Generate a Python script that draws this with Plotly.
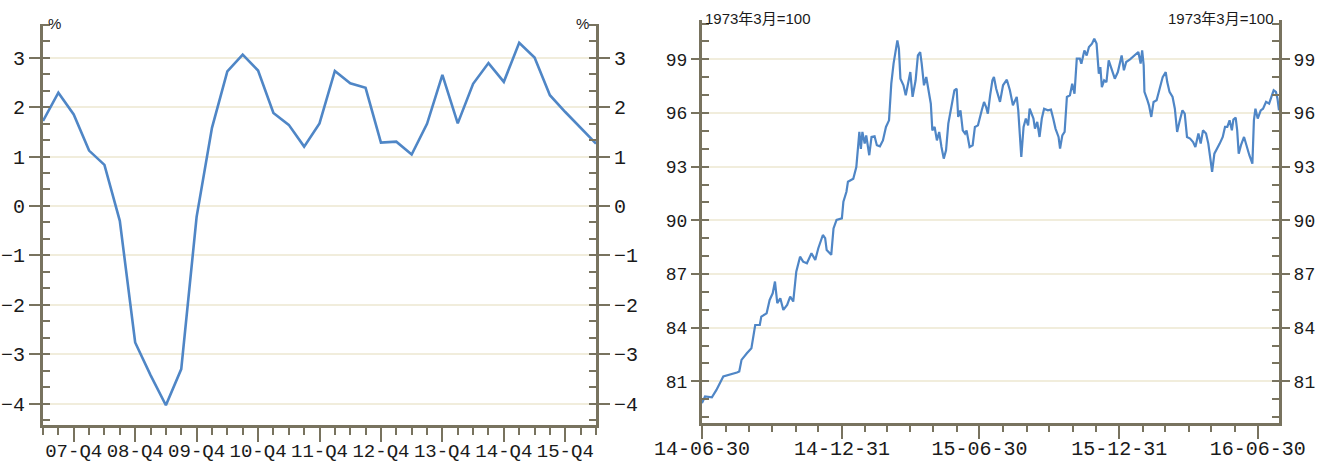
import plotly.graph_objects as go
import pandas as pd

# ---------------- Left chart data (quarterly, %) ----------------
quarters = [
    "07-Q2", "07-Q3", "07-Q4", "08-Q1", "08-Q2", "08-Q3", "08-Q4",
    "09-Q1", "09-Q2", "09-Q3", "09-Q4", "10-Q1", "10-Q2", "10-Q3", "10-Q4",
    "11-Q1", "11-Q2", "11-Q3", "11-Q4", "12-Q1", "12-Q2", "12-Q3", "12-Q4",
    "13-Q1", "13-Q2", "13-Q3", "13-Q4", "14-Q1", "14-Q2", "14-Q3", "14-Q4",
    "15-Q1", "15-Q2", "15-Q3", "15-Q4", "16-Q1", "16-Q2",
]
growth = [
    1.72, 2.29, 1.85, 1.12, 0.83, -0.30, -2.76,
    -3.42, -4.03, -3.30, -0.22, 1.58, 2.72, 3.06, 2.74,
    1.88, 1.64, 1.20, 1.67, 2.73, 2.48, 2.39, 1.28,
    1.30, 1.04, 1.66, 2.65, 1.67, 2.47, 2.89, 2.51,
    3.30, 3.00, 2.24, 1.90, 1.57, 1.26,
]
left_tick_labels = ["07-Q4", "08-Q4", "09-Q4", "10-Q4", "11-Q4",
                    "12-Q4", "13-Q4", "14-Q4", "15-Q4"]
left_unit = "%"

# ---------------- Right chart data (daily index, 1973年3月=100) ----------------
dates = [
    "2014-06-30", "2014-07-04", "2014-07-13", "2014-07-19", "2014-07-28",
    "2014-08-06", "2014-08-15", "2014-08-18", "2014-08-21", "2014-08-28",
    "2014-09-03", "2014-09-08", "2014-09-14", "2014-09-16", "2014-09-23",
    "2014-09-27", "2014-10-01", "2014-10-04", "2014-10-07", "2014-10-11",
    "2014-10-15", "2014-10-20", "2014-10-24", "2014-10-28", "2014-11-01",
    "2014-11-06", "2014-11-10", "2014-11-15", "2014-11-21", "2014-11-26",
    "2014-11-30", "2014-12-06", "2014-12-09", "2014-12-11", "2014-12-17",
    "2014-12-20", "2014-12-24", "2014-12-31", "2015-01-02", "2015-01-06",
    "2015-01-08", "2015-01-15", "2015-01-19", "2015-01-23", "2015-01-25",
    "2015-01-27", "2015-01-30", "2015-02-01", "2015-02-05", "2015-02-08",
    "2015-02-12", "2015-02-15", "2015-02-19", "2015-02-23", "2015-02-27",
    "2015-03-03", "2015-03-06", "2015-03-09", "2015-03-12", "2015-03-14",
    "2015-03-16", "2015-03-18", "2015-03-22", "2015-03-25", "2015-03-28",
    "2015-03-31", "2015-04-03", "2015-04-07", "2015-04-10", "2015-04-13",
    "2015-04-15", "2015-04-18", "2015-04-21", "2015-04-24", "2015-04-27",
    "2015-04-29", "2015-05-02", "2015-05-05", "2015-05-08", "2015-05-11",
    "2015-05-14", "2015-05-17", "2015-05-20", "2015-05-24", "2015-05-28",
    "2015-05-31", "2015-06-02", "2015-06-05", "2015-06-08", "2015-06-11",
    "2015-06-13", "2015-06-17", "2015-06-21", "2015-06-24", "2015-06-28",
    "2015-07-03", "2015-07-06", "2015-07-09", "2015-07-11", "2015-07-14",
    "2015-07-17", "2015-07-19", "2015-07-22", "2015-07-27", "2015-07-31",
    "2015-08-05", "2015-08-09", "2015-08-13", "2015-08-18", "2015-08-20",
    "2015-08-22", "2015-08-24", "2015-08-27", "2015-08-30", "2015-09-02",
    "2015-09-04", "2015-09-09", "2015-09-11", "2015-09-14", "2015-09-17",
    "2015-09-20", "2015-09-23", "2015-09-28", "2015-10-02", "2015-10-05",
    "2015-10-08", "2015-10-12", "2015-10-14", "2015-10-17", "2015-10-20",
    "2015-10-23", "2015-10-27", "2015-10-30", "2015-11-02", "2015-11-05",
    "2015-11-09", "2015-11-11", "2015-11-15", "2015-11-18", "2015-11-21",
    "2015-11-25", "2015-11-28", "2015-12-01", "2015-12-04", "2015-12-06",
    "2015-12-08", "2015-12-11", "2015-12-14", "2015-12-17", "2015-12-21",
    "2015-12-25", "2015-12-29", "2016-01-03", "2016-01-06", "2016-01-09",
    "2016-01-14", "2016-01-20", "2016-01-25", "2016-01-28", "2016-01-30",
    "2016-02-01", "2016-02-02", "2016-02-06", "2016-02-08", "2016-02-11",
    "2016-02-14", "2016-02-18", "2016-02-21", "2016-02-26", "2016-03-01",
    "2016-03-03", "2016-03-06", "2016-03-10", "2016-03-13", "2016-03-16",
    "2016-03-19", "2016-03-23", "2016-03-26", "2016-03-29", "2016-04-02",
    "2016-04-06", "2016-04-09", "2016-04-13", "2016-04-16", "2016-04-19",
    "2016-04-23", "2016-04-26", "2016-04-29", "2016-05-01", "2016-05-04",
    "2016-05-08", "2016-05-11", "2016-05-15", "2016-05-18", "2016-05-21",
    "2016-05-24", "2016-05-27", "2016-05-29", "2016-06-01", "2016-06-03",
    "2016-06-05", "2016-06-08", "2016-06-12", "2016-06-15", "2016-06-19",
    "2016-06-23", "2016-06-25", "2016-06-27", "2016-06-30", "2016-07-04",
    "2016-07-07", "2016-07-11", "2016-07-15", "2016-07-18", "2016-07-21",
    "2016-07-24", "2016-07-26", "2016-07-28",
]
index_values = [
    79.78, 80.15, 80.11, 80.52, 81.27,
    81.36, 81.49, 81.55, 82.20, 82.57,
    82.85, 84.15, 84.15, 84.62, 84.80,
    85.55, 85.92, 86.58, 85.37, 85.64,
    84.99, 85.27, 85.74, 85.46, 87.13,
    87.97, 87.69, 87.60, 88.16, 87.79,
    88.44, 89.18, 89.00, 88.34, 88.07,
    89.55, 90.02, 90.11, 91.04, 91.60,
    92.16, 92.33, 92.98, 94.94, 94.00,
    94.94, 94.29, 94.75, 93.64, 94.66,
    94.70, 94.20, 94.14, 94.47, 95.22,
    95.59, 97.64, 98.76, 99.69, 100.06,
    99.60, 97.92, 97.55, 96.99, 97.64,
    98.29, 96.90, 97.83, 99.22, 99.41,
    98.76, 97.55, 98.01, 97.18, 96.52,
    95.03, 95.22, 94.47, 94.94, 94.10,
    93.45, 93.92, 95.41, 96.34, 97.27,
    97.36, 95.78, 96.15, 95.03, 94.85,
    95.03, 94.10, 94.20, 95.22, 95.31,
    96.15, 96.62, 96.30, 95.96, 96.99,
    97.83, 98.01, 97.36, 96.62, 97.55,
    97.86, 97.27, 96.43, 96.90, 96.15,
    94.85, 93.54, 95.22, 95.69, 95.31,
    96.24, 95.69, 95.13, 95.50, 94.66,
    95.69, 96.24, 96.15, 96.19, 95.69,
    95.13, 94.66, 94.01, 94.75, 94.94,
    96.90, 96.99, 97.64, 97.08, 99.04,
    99.04, 98.76, 99.50, 99.22, 99.69,
    99.88, 100.15, 99.88, 98.20, 98.57,
    97.45, 97.83, 97.73, 98.94, 98.48,
    97.92, 98.29, 99.22, 98.39, 98.85,
    99.00, 99.22, 99.41, 98.76, 99.50,
    98.66, 97.18, 96.71, 96.43, 95.78,
    96.62, 96.71, 97.18, 98.01, 98.29,
    97.73, 97.18, 96.90, 96.24, 94.94,
    95.50, 96.15, 95.96, 94.66, 94.57,
    94.38, 94.10, 94.85, 94.29, 95.03,
    94.85, 94.29, 93.36, 92.71, 93.73,
    94.01, 94.29, 94.66, 95.22, 95.22,
    95.59, 95.03, 95.63, 95.74, 95.03,
    93.73, 94.20, 94.66, 94.20, 93.64,
    93.17, 95.59, 96.24, 95.69, 96.15,
    96.24, 96.62, 96.52, 96.90, 97.27,
    97.18, 96.80, 96.15,
]
right_tick_dates = ["2014-06-30", "2014-09-30", "2014-12-31", "2015-03-31",
                    "2015-06-30", "2015-09-30", "2015-12-31", "2016-03-31",
                    "2016-06-30"]
right_tick_labels = ["14-06-30", "", "14-12-31", "", "15-06-30", "",
                     "15-12-31", "", "16-06-30"]
right_unit = "1973年3月=100"

# ---------------- Styling ----------------
W, H = 1336, 464
LINE_COLOR = "#4f86c6"
AXIS_COLOR = "#78735f"
GRID_COLOR = "#f1eddc"
MONO = "Liberation Mono, DejaVu Sans Mono, monospace"
TICK_FONT = dict(family=MONO, size=20, color="#1a1a1a")
TICK_FONT_XL = dict(family=MONO, size=19, color="#1a1a1a")
TICK_FONT_R = dict(family=MONO, size=18, color="#1a1a1a")
UNIT_FONT = dict(family="Liberation Sans, Noto Sans CJK SC, sans-serif", size=15, color="#1a1a1a")


def px_x(p):
    return p / W


def px_y(p):
    return 1 - p / H


L_X0, L_X1 = 43, 596
L_Y0, L_Y1 = 24, 425
R_X0, R_X1 = 702, 1279
R_Y0, R_Y1 = 20, 423

x_idx = list(range(len(quarters)))
left_tick_idx = [quarters.index(q) for q in left_tick_labels]

minor_month_ends = [d.strftime("%Y-%m-%d") for d in
                    pd.date_range(dates[0], dates[-1], freq=pd.offsets.MonthEnd())]

fig = go.Figure()

fig.add_trace(go.Scatter(
    x=x_idx, y=growth, mode="lines", xaxis="x", yaxis="y",
    line=dict(color=LINE_COLOR, width=2.6), showlegend=False,
    customdata=quarters, hovertemplate="%{customdata}: %{y}%<extra></extra>",
))
fig.add_trace(go.Scatter(
    x=dates, y=index_values, mode="lines", xaxis="x2", yaxis="y3",
    line=dict(color=LINE_COLOR, width=2.2), showlegend=False,
))

common_y = dict(
    showline=True, linewidth=3, linecolor=AXIS_COLOR,
    ticks="outside", ticklen=11, tickwidth=2, tickcolor=AXIS_COLOR,
    zeroline=False, tickfont=TICK_FONT, automargin=False,
)

fig.update_layout(
    width=W, height=H,
    margin=dict(l=0, r=0, t=0, b=0, autoexpand=False),
    paper_bgcolor="white", plot_bgcolor="white",
    showlegend=False,
    xaxis=dict(
        domain=[px_x(L_X0), px_x(L_X1)], anchor="y",
        range=[0, len(quarters) - 1],
        tickmode="array", tickvals=left_tick_idx, ticktext=left_tick_labels,
        tickangle=0, automargin=False, ticklabelstandoff=-8,
        showline=True, linewidth=3, linecolor=AXIS_COLOR,
        ticks="outside", ticklen=14, tickwidth=2, tickcolor=AXIS_COLOR,
        minor=dict(tickmode="array", tickvals=x_idx, ticks="outside",
                   ticklen=7, tickwidth=2, tickcolor=AXIS_COLOR, showgrid=False),
        showgrid=False, zeroline=False, tickfont=TICK_FONT_XL,
    ),
    yaxis=dict(
        domain=[px_y(L_Y1), px_y(L_Y0)], anchor="x",
        range=[-4.43, 3.68], tick0=0, dtick=1,
        showgrid=True, gridcolor=GRID_COLOR, gridwidth=1.5,
        minor=dict(dtick=1 / 3, tick0=0, ticks="inside", ticklen=7,
                   tickwidth=2, tickcolor=AXIS_COLOR, showgrid=False),
        **common_y,
    ),
    yaxis2=dict(
        overlaying="y", side="right", anchor="x",
        range=[-4.43, 3.68], tick0=0, dtick=1, showgrid=False,
        minor=dict(dtick=1 / 3, tick0=0, ticks="inside", ticklen=7,
                   tickwidth=2, tickcolor=AXIS_COLOR, showgrid=False),
        **common_y,
    ),
    xaxis2=dict(
        domain=[px_x(R_X0), px_x(R_X1)], anchor="y3", type="date",
        range=[dates[0], dates[-1]],
        tickmode="array", tickvals=right_tick_dates, ticktext=right_tick_labels,
        tickangle=0, automargin=False, ticklabelstandoff=-8,
        showline=True, linewidth=3, linecolor=AXIS_COLOR,
        ticks="outside", ticklen=13, tickwidth=2, tickcolor=AXIS_COLOR,
        minor=dict(tickmode="array", tickvals=minor_month_ends, ticks="outside",
                   ticklen=6, tickwidth=2, tickcolor=AXIS_COLOR, showgrid=False),
        showgrid=False, zeroline=False, tickfont=TICK_FONT,
    ),
    yaxis3=dict(
        domain=[px_y(R_Y1), px_y(R_Y0)], anchor="x2",
        range=[78.67, 101.2], tick0=0, dtick=3,
        showgrid=True, gridcolor=GRID_COLOR, gridwidth=1.5,
        minor=dict(dtick=1, tick0=0, ticks="inside", ticklen=7,
                   tickwidth=2, tickcolor=AXIS_COLOR, showgrid=False),
        **{**common_y, "ticklen": 8, "tickfont": TICK_FONT_R},
    ),
    yaxis4=dict(
        overlaying="y3", side="right", anchor="x2",
        range=[78.67, 101.2], tick0=0, dtick=3, showgrid=False,
        minor=dict(dtick=1, tick0=0, ticks="inside", ticklen=7,
                   tickwidth=2, tickcolor=AXIS_COLOR, showgrid=False),
        **{**common_y, "ticklen": 8, "tickfont": TICK_FONT_R},
    ),
)

# invisible traces so the right-side axes are drawn
fig.add_trace(go.Scatter(x=[x_idx[0]], y=[growth[0]], xaxis="x", yaxis="y2",
                         mode="markers", marker=dict(opacity=0), hoverinfo="skip",
                         showlegend=False))
fig.add_trace(go.Scatter(x=[dates[0]], y=[index_values[0]], xaxis="x2", yaxis="y4",
                         mode="markers", marker=dict(opacity=0), hoverinfo="skip",
                         showlegend=False))

annotations = [
    dict(text=left_unit, x=px_x(L_X0 + 3), y=px_y(L_Y0), xanchor="left", yanchor="middle"),
    dict(text=left_unit, x=px_x(L_X1 - 5), y=px_y(L_Y0), xanchor="right", yanchor="middle"),
    dict(text=right_unit, x=px_x(R_X0 + 1), y=px_y(R_Y0 - 1), xanchor="left", yanchor="middle"),
    dict(text=right_unit, x=px_x(R_X1 - 3), y=px_y(R_Y0 - 1), xanchor="right", yanchor="middle"),
]
for a in annotations:
    fig.add_annotation(xref="paper", yref="paper", showarrow=False, font=UNIT_FONT, **a)

fig.write_html(
    "out.html",
    config={"displayModeBar": False},
    post_script="document.body.style.margin='0';document.body.style.overflow='hidden';",
)
